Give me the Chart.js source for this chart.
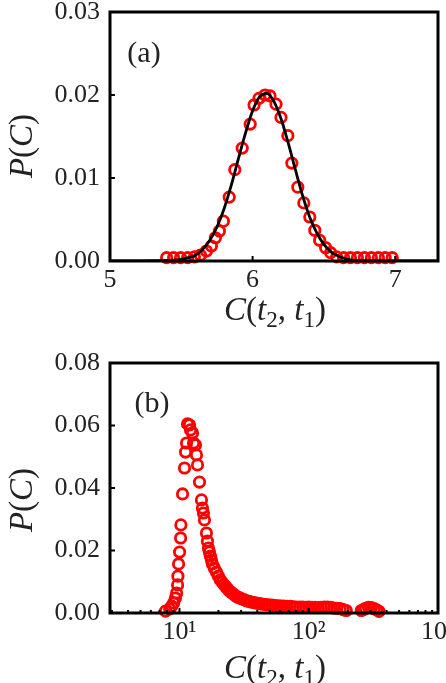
<!DOCTYPE html>
<html>
<head>
<meta charset="utf-8">
<script src="https://cdn.jsdelivr.net/npm/chart.js@4.4.1/dist/chart.umd.min.js"></script>
<style>
  html, body { margin: 0; padding: 0; background: #fff; }
  #wrap { position: relative; width: 446px; height: 683px; overflow: hidden; }
  canvas { position: absolute; left: 0; }
  #chartA { top: 0; }
  #chartB { top: 340px; }
</style>
</head>
<body>
<div id="wrap">
  <canvas id="chartA" width="446" height="340"></canvas>
  <canvas id="chartB" width="446" height="343"></canvas>
</div>
<script>
// panel (a): histogram circles + fitted curve
const aCircleX = [5.397, 5.446, 5.495, 5.544, 5.592, 5.634, 5.676, 5.711, 5.739, 5.767,
  5.795, 5.836, 5.875, 5.927, 5.983, 6.010, 6.045, 6.087, 6.122, 6.164,
  6.199, 6.247, 6.275, 6.317, 6.359, 6.401, 6.436, 6.470, 6.512, 6.547,
  6.589, 6.638, 6.686, 6.735, 6.784, 6.833, 6.882, 6.930, 6.979];
const aCircleY = [0.0004, 0.0004, 0.0004, 0.0004, 0.0005, 0.0007, 0.0012, 0.0018, 0.0028, 0.0036,
  0.0048, 0.0077, 0.0110, 0.0136, 0.0165, 0.0188, 0.0196, 0.0200, 0.0199, 0.0189,
  0.0173, 0.0151, 0.0118, 0.0089, 0.0070, 0.0053, 0.0037, 0.0025, 0.0016, 0.0010,
  0.0005, 0.0004, 0.0004, 0.0004, 0.0004, 0.0004, 0.0004, 0.0004, 0.0004];
const aFitX = [5.0, 5.45, 5.50, 5.55, 5.60, 5.65, 5.70, 5.75, 5.80, 5.85, 5.90, 5.95, 6.00,
  6.05, 6.10, 6.15, 6.20, 6.25, 6.30, 6.35, 6.40, 6.45, 6.50, 6.55, 6.60, 6.65, 6.70, 6.75, 7.3];
const aFitY = [0, 0.0001, 0.0002, 0.0004, 0.0007, 0.0014, 0.0025, 0.0041, 0.0063, 0.0091, 0.0123, 0.0154, 0.0181,
  0.0198, 0.0202, 0.0192, 0.0171, 0.0142, 0.0110, 0.0079, 0.0053, 0.0034, 0.0020, 0.0011, 0.0006, 0.0003, 0.0001, 0, 0];
const aXTicks = [5, 6, 7];
const aYTicks = [0, 0.01, 0.02, 0.03];

// panel (b): histogram circles on a log x axis
const bCircleX = [7.8, 8.4, 8.7, 9.0, 9.3, 9.5, 9.67, 9.72, 9.84, 10.02,
  10.2, 10.25, 10.56, 10.94, 11.14, 11.34, 11.54, 11.96, 12.17, 12.61,
  12.84, 13.3, 13.54, 13.78, 14.28, 14.79, 15.05, 15.32, 15.6, 16.16,
  16.45, 16.75, 17.04, 17.35, 17.66, 17.98,
  18.6, 19.3, 20.0, 20.7, 21.4, 22.1, 22.8, 23.6, 24.4, 25.2,
  26, 27, 28, 29, 30, 31.5, 33, 34.5, 36, 38,
  40, 42, 44, 46.5, 49, 52, 55, 58, 61, 64,
  68, 72, 76, 80, 85, 90, 95, 100, 106, 112,
  118, 125, 132, 140, 148, 156, 165, 175, 185, 195,
  255, 265, 275, 290, 305, 320, 335, 350];
const bCircleY = [0.0006, 0.0013, 0.0022, 0.0032, 0.0048, 0.0064, 0.0090, 0.0118, 0.0157, 0.0195,
  0.0240, 0.0282, 0.0381, 0.0464, 0.0515, 0.0544, 0.0605, 0.0602, 0.0586, 0.0576,
  0.0544, 0.0538, 0.0506, 0.0474, 0.0419, 0.0362, 0.0336, 0.0320, 0.0298, 0.0256,
  0.0230, 0.0208, 0.0195, 0.0182, 0.0170, 0.0157,
  0.0144, 0.0131, 0.0118, 0.0106, 0.0098, 0.0091, 0.0084, 0.0077, 0.0070, 0.0066,
  0.0061, 0.0056, 0.0051, 0.0049, 0.0046, 0.0043, 0.0039, 0.0037, 0.0035, 0.0033,
  0.0031, 0.0030, 0.0028, 0.0027, 0.0026, 0.0025, 0.0024, 0.0023, 0.0022, 0.0022,
  0.0021, 0.0021, 0.0020, 0.0019, 0.0019, 0.0019, 0.0018, 0.0019, 0.0018, 0.0018,
  0.0017, 0.0018, 0.0019, 0.0019, 0.0018, 0.0016, 0.0015, 0.0014, 0.0011, 0.0008,
  0.0008, 0.0011, 0.0015, 0.0018, 0.0017, 0.0014, 0.0010, 0.0005];
const bXTicks = [10, 100, 1000];
const bXMinor = [3, 4, 5, 6, 7, 8, 9, 20, 30, 40, 50, 60, 70, 80, 90, 200, 300, 400, 500, 600, 700, 800, 900];
const bYTicks = [0, 0.02, 0.04, 0.06, 0.08];

const serif = "'Liberation Serif', 'DejaVu Serif', serif";
const ink = '#222';
const supers = { 10: '10\u00b9', 100: '10\u00b2', 1000: '10\u00b3' };

// draws a short formula, mixing italic letters, upright signs and subscripts
function mathText(ctx, parts, cx, cy, size) {
  let w = 0;
  const items = parts.map(([t, s]) => {
    const fs = s === 's' ? size * 0.7 : size;
    const font = (s === 'i' ? 'italic ' : '') + fs + 'px ' + serif;
    ctx.font = font;
    const width = ctx.measureText(t).width;
    w += width;
    return { t, font, width, dy: s === 's' ? size * 0.22 : 0 };
  });
  let x = cx - w / 2;
  ctx.textAlign = 'left';
  ctx.textBaseline = 'alphabetic';
  const base = cy + size * 0.3;
  items.forEach(it => {
    ctx.font = it.font;
    ctx.fillText(it.t, x, base + it.dy);
    x += it.width;
  });
}

const xTitle = [['C', 'i'], ['(', 'r'], ['t', 'i'], ['2', 's'], [',', 'r'], [' ', 'r'], ['t', 'i'], ['1', 's'], [')', 'r']];
const yTitle = [['P', 'i'], ['(', 'r'], ['C', 'i'], [')', 'r']];

const framePlugin = {
  id: 'frame',
  afterDatasetsDraw(chart, args, opts) {
    const { ctx, chartArea: a, scales } = chart;
    ctx.save();
    ctx.strokeStyle = '#000';
    ctx.lineWidth = 2;
    ctx.beginPath();
    scales.x.ticks.forEach(t => {
      const px = scales.x.getPixelForValue(t.value);
      ctx.moveTo(px, a.bottom);
      ctx.lineTo(px, a.bottom - 5);
    });
    (opts.minor || []).forEach(v => {
      const px = scales.x.getPixelForValue(v);
      ctx.moveTo(px, a.bottom);
      ctx.lineTo(px, a.bottom - 3);
    });
    scales.y.ticks.forEach(t => {
      const py = scales.y.getPixelForValue(t.value);
      ctx.moveTo(a.left, py);
      ctx.lineTo(a.left + 5, py);
    });
    ctx.stroke();
    ctx.lineWidth = 3;
    ctx.strokeRect(a.left, a.top, a.right - a.left, a.bottom - a.top);
    ctx.restore();
  },
  afterDraw(chart, args, opts) {
    const { ctx } = chart;
    ctx.save();
    ctx.fillStyle = ink;
    mathText(ctx, xTitle, opts.xTitle[0], opts.xTitle[1], 33);
    ctx.translate(opts.yTitle[0], opts.yTitle[1]);
    ctx.rotate(-Math.PI / 2);
    mathText(ctx, yTitle, 0, 0, 33);
    ctx.restore();
    ctx.save();
    ctx.fillStyle = ink;
    ctx.font = '30px ' + serif;
    ctx.textAlign = 'center';
    ctx.textBaseline = 'middle';
    ctx.fillText(opts.label, opts.labelAt[0], opts.labelAt[1]);
    ctx.restore();
  }
};

function circles(xs, ys) {
  return {
    data: xs.map((x, i) => ({ x, y: ys[i] })),
    showLine: false,
    pointStyle: 'circle',
    pointRadius: 5.2,
    pointBorderWidth: 2.8,
    pointBorderColor: '#ff0000',
    pointBackgroundColor: 'rgba(0,0,0,0)',
    clip: false
  };
}

function makeScale(extra, tickValues, fitSize, isX) {
  return Object.assign({
    grid: { display: false, drawTicks: false },
    border: { display: false },
    ticks: {
      font: { family: serif, size: 26 },
      color: ink,
      autoSkip: false,
      maxRotation: 0,
      padding: isX ? 4 : 10
    },
    afterBuildTicks: s => { s.ticks = tickValues.map(v => ({ value: v })); },
    afterFit: s => {
      if (isX) s.height = fitSize; else s.width = fitSize;
      s.paddingLeft = 0; s.paddingRight = 0; s.paddingTop = 0; s.paddingBottom = 0;
    }
  }, extra);
}

function baseOptions(padTop, xScale, yScale, frameOpts) {
  return {
    responsive: false,
    animation: false,
    devicePixelRatio: 1,
    layout: { padding: { top: padTop, right: 6, bottom: 0, left: 0 } },
    plugins: { legend: { display: false }, tooltip: { enabled: false }, frame: frameOpts },
    scales: { x: xScale, y: yScale }
  };
}

// (a)
const xA = makeScale({ type: 'linear', min: 5, max: 7.3 }, aXTicks, 79, true);
xA.ticks.callback = v => String(v);
const yA = makeScale({ type: 'linear', min: 0, max: 0.03 }, aYTicks, 110, false);
yA.ticks.callback = v => v.toFixed(2);

new Chart(document.getElementById('chartA'), {
  type: 'scatter',
  data: {
    datasets: [
      {
        data: aFitX.map((x, i) => ({ x, y: aFitY[i] })),
        showLine: true,
        borderColor: '#000',
        borderWidth: 2.8,
        pointRadius: 0,
        cubicInterpolationMode: 'monotone',
        fill: false
      },
      circles(aCircleX, aCircleY)
    ]
  },
  options: baseOptions(12, xA, yA, { xTitle: [275, 310], yTitle: [22, 146], label: '(a)', labelAt: [144, 54] }),
  plugins: [framePlugin]
});

// (b)
const xB = makeScale({ type: 'logarithmic', min: 2.9, max: 1000 }, bXTicks, 70, true);
xB.ticks.callback = v => supers[v] || '';
const yB = makeScale({ type: 'linear', min: 0, max: 0.08 }, bYTicks, 110, false);
yB.ticks.callback = v => v.toFixed(2);

new Chart(document.getElementById('chartB'), {
  type: 'scatter',
  data: { datasets: [circles(bCircleX, bCircleY)] },
  options: baseOptions(23, xB, yB, { xTitle: [275, 328], yTitle: [22, 160], label: '(b)', labelAt: [152, 64], minor: bXMinor }),
  plugins: [framePlugin]
});
</script>
</body>
</html>
